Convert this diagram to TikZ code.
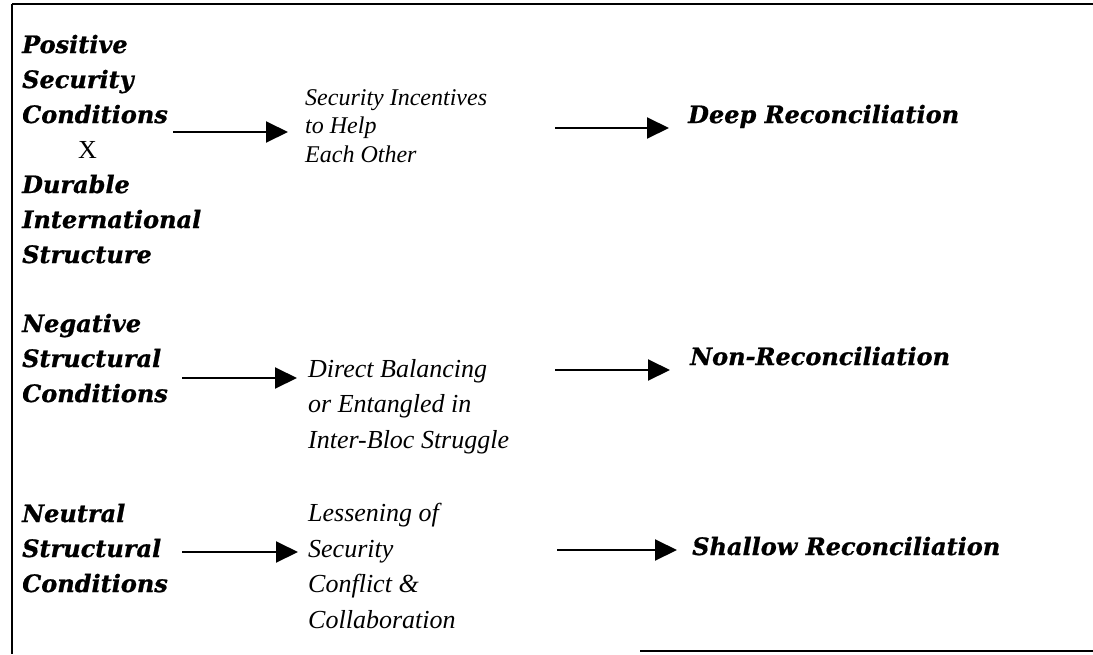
\documentclass[tikz,border=0pt]{standalone}
\usepackage{fontspec}
\setmainfont{Liberation Serif}
\newfontfamily\dvs{DejaVu Serif}[BoldItalicFeatures={FakeBold=0.8}]
\usetikzlibrary{arrows.meta}
\tikzset{
  lbl/.style={font=\dvs\bfseries\itshape\fontsize{24}{35}\selectfont, align=left, inner sep=0pt, anchor=base west},
  res/.style={font=\dvs\bfseries\itshape\fontsize{24}{35}\selectfont, inner sep=0pt, anchor=base west},
  mid/.style={font=\itshape\fontsize{26}{35.5}\selectfont, align=left, inner sep=0pt, anchor=base west},
  midsmall/.style={mid, font=\itshape\fontsize{24}{28.5}\selectfont},
  arr/.style={line width=2pt, -{Triangle[length=22pt,width=21pt]}},
  frame/.style={line width=2pt},
}
\begin{document}
\begin{tikzpicture}[x=1pt,y=-1pt]
\useasboundingbox (0,0) rectangle (1093,654);
% frame
\draw[frame] (12,4) -- (1093,4);
\draw[frame] (12,4) -- (12,654);
\draw[frame] (640,651) -- (1093,651);
% left column (anchor = baseline of last line)
\node[lbl] (l1) at (22,263) {Positive\\Security\\Conditions\\\hspace*{56pt}{\normalfont\upshape\fontsize{26}{35}\selectfont X}\\Durable\\International\\Structure};
\node[lbl] (l2) at (22,402) {Negative\\Structural\\Conditions};
\node[lbl] (l3) at (22,592) {Neutral\\Structural\\Conditions};
% middle column
\node[midsmall] (m1) at (305,162) {Security Incentives\\to Help\\Each Other};
\node[mid] (m2) at (308,448) {Direct Balancing\\or Entangled in\\Inter-Bloc Struggle};
\node[mid] (m3) at (308,628) {Lessening of\\Security\\Conflict \&\\Collaboration};
% right column
\node[res] (r1) at (688,123) {Deep Reconciliation};
\node[res] (r2) at (690,365) {Non-Reconciliation};
\node[res] (r3) at (692,555) {Shallow Reconciliation};
% arrow start points
\coordinate (a1) at (173,132);
\coordinate (a2) at (182,378);
\coordinate (a3) at (182,552);
\coordinate (b1) at (555,128);
\coordinate (b2) at (555,370);
\coordinate (b3) at (557,550);
% arrows
\draw[arr] (a1) -- ([xshift=-17pt]m1.west |- a1);
\draw[arr] (a2) -- ([xshift=-11pt]m2.west |- a2);
\draw[arr] (a3) -- ([xshift=-10pt]m3.west |- a3);
\draw[arr] (b1) -- ([xshift=-19pt]r1.west |- b1);
\draw[arr] (b2) -- ([xshift=-20pt]r2.west |- b2);
\draw[arr] (b3) -- ([xshift=-15pt]r3.west |- b3);
\end{tikzpicture}
\end{document}
